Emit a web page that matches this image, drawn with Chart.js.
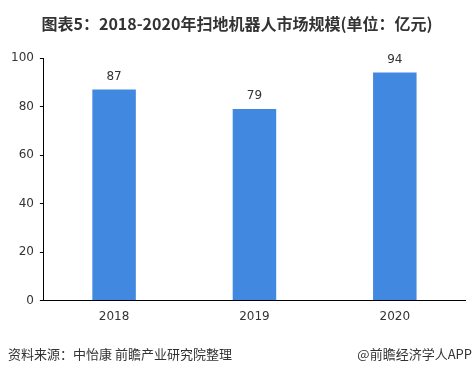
<!DOCTYPE html>
<html>
<head>
<meta charset="utf-8">
<script src="https://cdn.jsdelivr.net/npm/chart.js@4/dist/chart.umd.min.js"></script>
<style>
  body { margin: 0; background: #fff; }
  #wrap { position: relative; width: 474px; height: 376px; }
  #title { position: absolute; left: 0; top: 11px; width: 474px; text-align: center;
    font: bold 16px "Noto Sans CJK SC", sans-serif; color: #333; }
  .foot { position: absolute; top: 344px; font: 13px "Noto Sans CJK SC", sans-serif; color: #333; }
</style>
</head>
<body>
<div id="wrap">
  <canvas id="marketSize" width="474" height="376"></canvas>
  <div id="title">图表5：2018-2020年扫地机器人市场规模(单位：亿元)</div>
  <div class="foot" style="left:8px">资料来源：中怡康 前瞻产业研究院整理</div>
  <div class="foot" style="right:2px">@前瞻经济学人APP</div>
</div>
<script>
var years = ['2018', '2019', '2020'];
var marketSize = [87, 79, 94]; // 亿元
var yTicks = [0, 20, 40, 60, 80, 100];

// value labels above each bar
var barLabels = {
  id: 'barLabels',
  afterDatasetsDraw: function(chart) {
    var ctx = chart.ctx;
    var meta = chart.getDatasetMeta(0);
    ctx.save();
    ctx.font = '12px "DejaVu Sans", sans-serif';
    ctx.fillStyle = '#333';
    ctx.textAlign = 'center';
    ctx.textBaseline = 'bottom';
    meta.data.forEach(function(bar, i) {
      ctx.fillText(marketSize[i], bar.x, bar.y - 7);
    });
    ctx.restore();
  }
};

var ctx = document.getElementById('marketSize').getContext('2d');
var chartInstance = new Chart(ctx, {
  type: 'bar',
  data: {
    labels: years,
    datasets: [{
      data: marketSize,
      backgroundColor: '#4189E0',
      barPercentage: 0.62,
      categoryPercentage: 0.5
    }]
  },
  options: {
    responsive: false,
    animation: false,
    layout: { padding: { top: 58, right: 9, bottom: 51, left: 5 } },
    plugins: {
      legend: { display: false },
      title: { display: false },
      tooltip: { enabled: false }
    },
    scales: {
      x: {
        grid: { display: false },
        border: { display: true, color: '#000', width: 1 },
        ticks: { color: '#333', font: { family: 'DejaVu Sans', size: 12 }, padding: 1 }
      },
      y: {
        min: 0,
        max: 100,
        afterBuildTicks: function(axis) {
          axis.ticks = yTicks.map(function(v) { return { value: v }; });
        },
        grid: { drawOnChartArea: false, tickLength: 4, color: '#000' },
        border: { display: true, color: '#000', width: 1 },
        ticks: { color: '#333', font: { family: 'DejaVu Sans', size: 12 }, padding: 6 }
      }
    }
  },
  plugins: [barLabels]
});
</script>
</body>
</html>
